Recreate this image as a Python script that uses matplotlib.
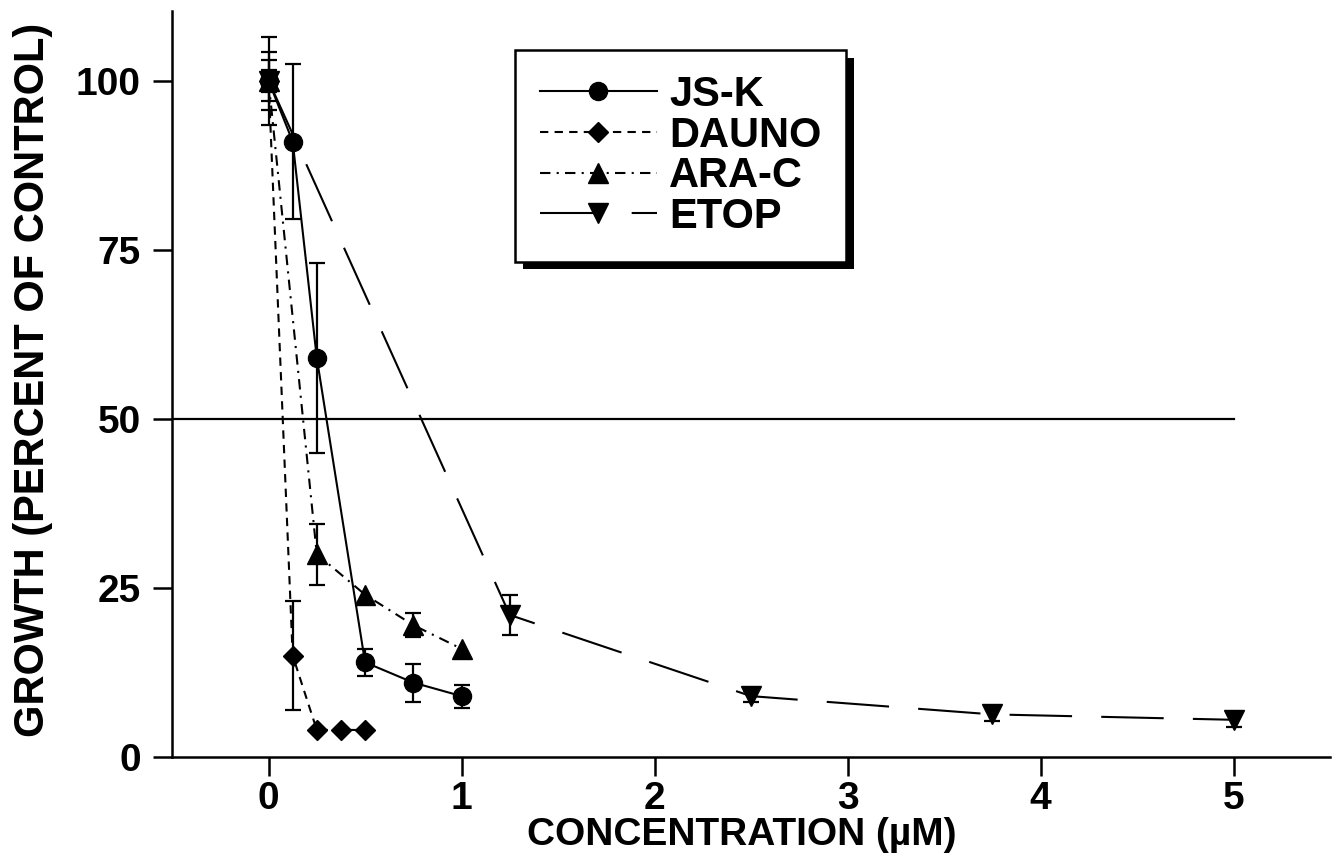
import numpy as np
import matplotlib
matplotlib.use("Agg")
import matplotlib.pyplot as plt
import matplotlib.patheffects as pe

# growth (% of control) vs concentration (uM)
conc_jsk = [0, 0.125, 0.25, 0.5, 0.75, 1.0]
growth_jsk = [100, 91, 59, 14, 11, 9]
err_jsk = [6.5, 11.5, 14, 2, 2.8, 1.7]

conc_dauno = [0, 0.125, 0.25, 0.375, 0.5]
growth_dauno = [100, 15, 4, 4, 4]
err_dauno = [4.3, 8, 0, 0, 0]

conc_arac = [0, 0.25, 0.5, 0.75, 1.0]
growth_arac = [100, 30, 24, 19.5, 16]
err_arac = [3, 4.5, 0, 1.8, 0]

conc_etop = [0, 1.25, 2.5, 3.75, 5.0]
growth_etop = [100, 21, 9, 6.3, 5.5]
err_etop = [1.6, 3, 0.8, 1, 1]

x_ticks = [0, 1, 2, 3, 4, 5]
y_ticks = [0, 25, 50, 75, 100]

plt.rcParams['font.family'] = ['Liberation Sans', 'DejaVu Sans']
plt.rcParams['font.weight'] = 'bold'

fig = plt.figure(figsize=(13.41, 8.61), dpi=100)
ax = fig.add_axes([0.1283, 0.1208, 0.8635, 0.8664])

series = [
    (conc_jsk, growth_jsk, err_jsk, 'JS-K', 'o', 13, '-'),
    (conc_dauno, growth_dauno, err_dauno, 'DAUNO', 'D', 10, (0, (4, 3))),
    (conc_arac, growth_arac, err_arac, 'ARA-C', '^', 14, (0, (5, 3, 1, 3))),
    (conc_etop, growth_etop, err_etop, 'ETOP', 'v', 14, (0, (30, 14))),
]

for x, y, e, name, mk, ms, ls in series:
    x = np.array(x)
    y = np.array(y)
    e = np.array(e)
    keep = e > 0
    ax.errorbar(x[keep], y[keep], yerr=e[keep], fmt='none', ecolor='k',
                elinewidth=1.6, capsize=6, capthick=1.6, zorder=2)
    ax.plot(x, y, color='k', lw=1.5, ls=ls, marker=mk, ms=ms,
            markeredgecolor='k', markerfacecolor='k', label=name, zorder=3)

# 50% reference line
ax.axhline(50, xmin=0, xmax=(5 + 0.5) / 6.0, color='k', lw=1.6, zorder=1)

ax.set_xlim(-0.5, 5.5)
ax.set_ylim(0, 110.3)
ax.set_xticks(x_ticks)
ax.set_yticks(y_ticks)

for s in ['top', 'right']:
    ax.spines[s].set_visible(False)
for s in ['left', 'bottom']:
    ax.spines[s].set_linewidth(1.8)

ax.tick_params(axis='both', direction='out', length=14, width=1.8, labelsize=28)
ax.tick_params(axis='x', pad=3)
ax.tick_params(axis='y', pad=8.5)

ax.set_xlabel('CONCENTRATION (\u00b5M)', fontsize=28, fontweight='bold')
ax.set_ylabel('GROWTH (PERCENT OF CONTROL)', fontsize=30, fontweight='bold')
ax.xaxis.set_label_coords(0.492, -0.08)
ax.yaxis.set_label_coords(-0.103, 0.505)

leg = ax.legend(loc='upper left', bbox_to_anchor=(0.384, 0.942),
                bbox_transform=fig.transFigure,
                prop={'size': 30, 'weight': 'bold'},
                frameon=True, fancybox=False, edgecolor='k', framealpha=1,
                borderaxespad=0, borderpad=0.6, handlelength=2.8,
                handletextpad=0.3, labelspacing=0.015)
leg.get_frame().set_linewidth(1.8)
leg.get_frame().set_path_effects([
    pe.SimplePatchShadow(offset=(5.5, -5.5), shadow_rgbFace='k', alpha=1),
    pe.Normal()])

fig.savefig('out.png', dpi=100)
